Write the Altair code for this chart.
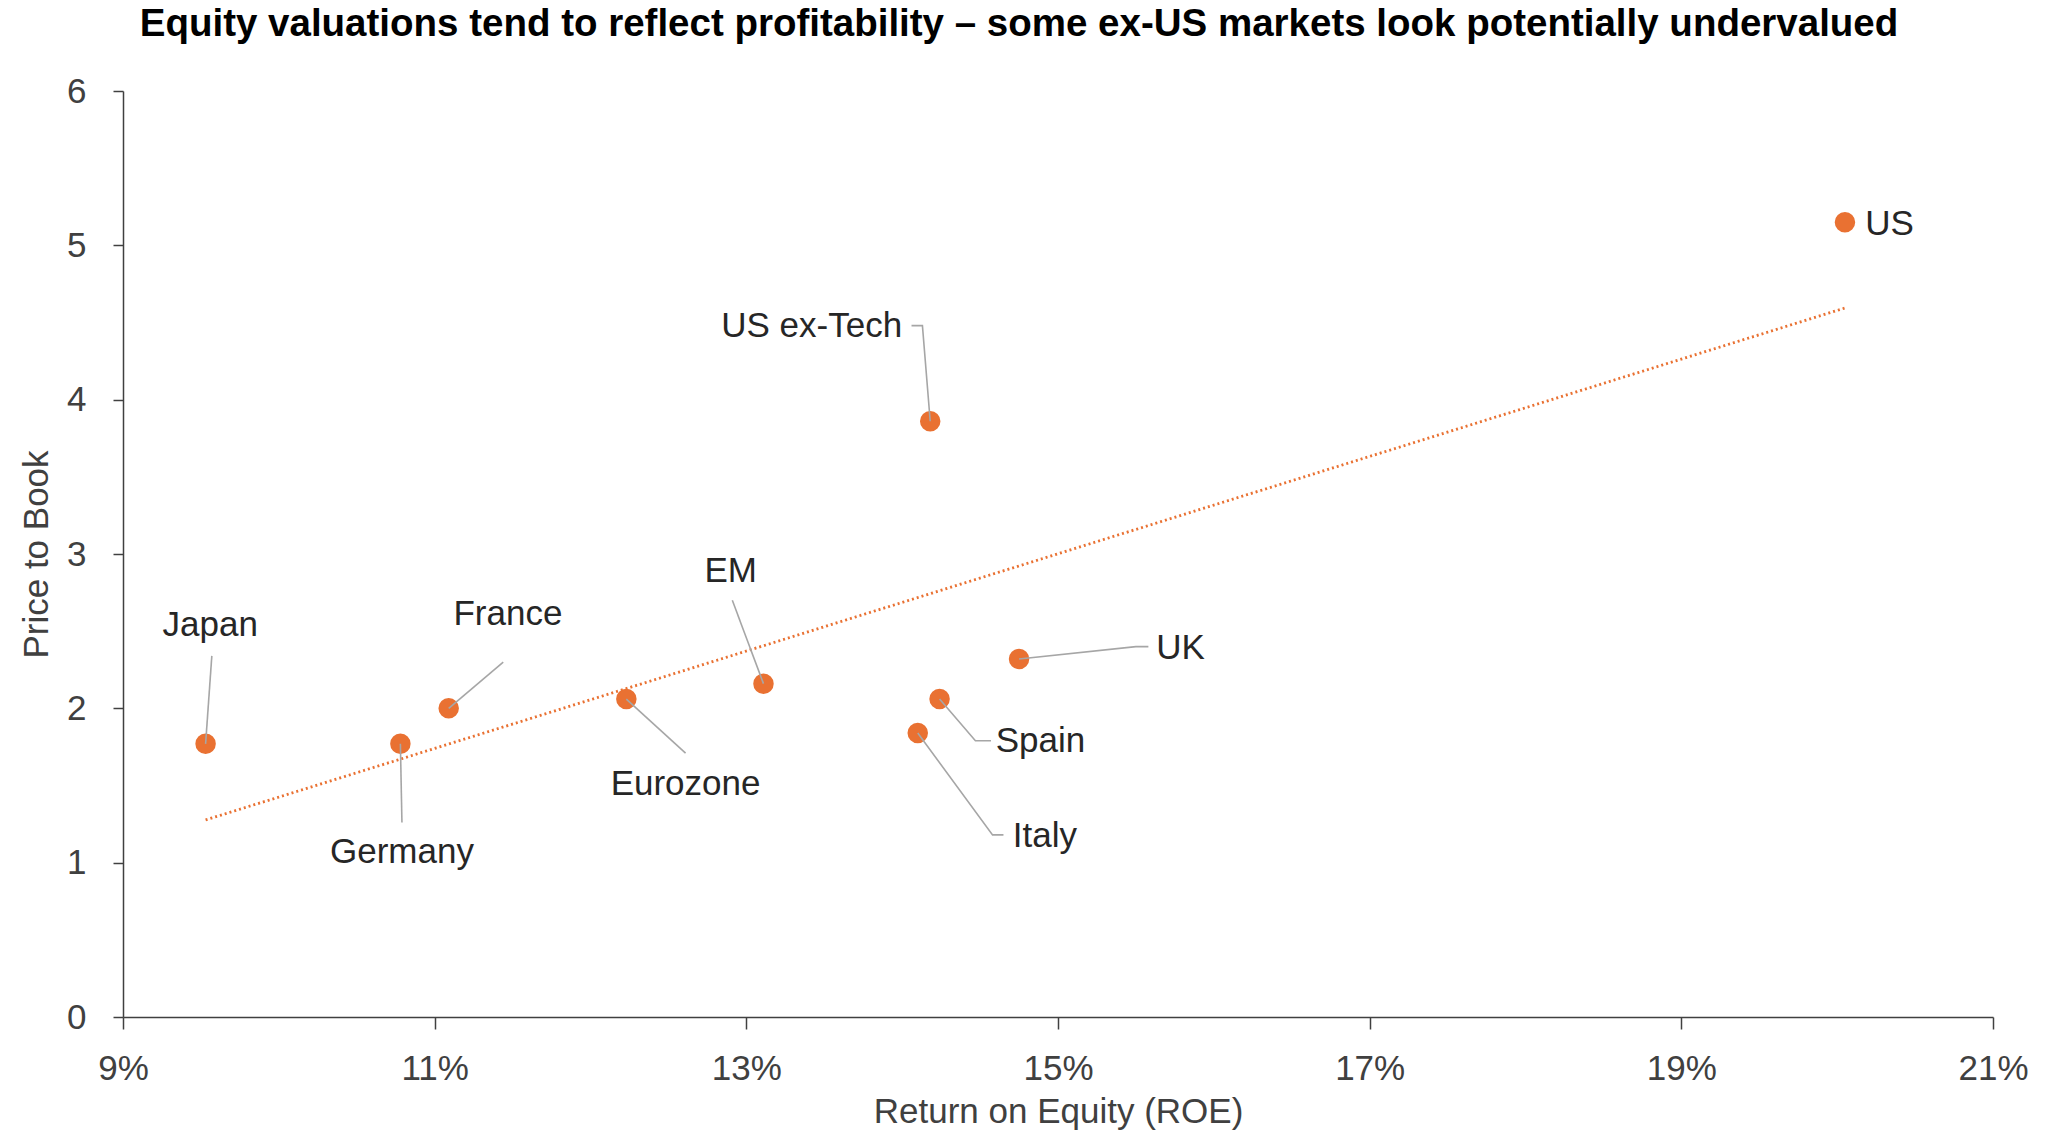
import altair as alt
import pandas as pd

# ---- data ----
names = ["Japan", "Germany", "France", "Eurozone", "EM", "US ex-Tech", "Italy", "Spain", "UK", "US"]
roe = [9.53, 10.78, 11.09, 12.23, 13.11, 14.18, 14.10, 14.24, 14.75, 20.05]   # Return on Equity, %
pb = [1.77, 1.77, 2.00, 2.06, 2.16, 3.86, 1.84, 2.06, 2.32, 5.15]             # Price to Book

# label anchors (data units) and alignment
label_x = [9.56, 10.79, 11.47, 12.61, 12.90, 14.00, 14.71, 14.60, 15.63, 20.18]
label_y = [2.54, 1.07, 2.61, 1.51, 2.89, 4.48, 1.17, 1.79, 2.39, 5.14]
label_align = ["center", "center", "center", "center", "center", "right", "left", "left", "left", "left"]

# leader lines: optional elbow, then end near label (data units)
elbow_x = [None, None, None, None, None, 14.13, 14.58, 14.47, 15.50, None]
elbow_y = [None, None, None, None, None, 4.48, 1.18, 1.79, 2.40, None]
end_x = [9.57, 10.79, 11.44, 12.61, 12.91, 14.06, 14.65, 14.57, 15.58, None]
end_y = [2.34, 1.26, 2.30, 1.71, 2.70, 4.48, 1.18, 1.79, 2.40, None]

x_ticks = [9, 11, 13, 15, 17, 19, 21]
y_ticks = [0, 1, 2, 3, 4, 5, 6]

TITLE = "Equity valuations tend to reflect profitability \u2013 some ex-US markets look potentially undervalued"
FONT = "Liberation Sans"
ORANGE = "#E97132"

points = pd.DataFrame({"name": names, "roe": roe, "pb": pb})
labels = pd.DataFrame({"name": names, "lx": label_x, "ly": label_y, "align": label_align})

rows = []
for i, n in enumerate(names):
    if end_x[i] is None:
        continue
    rows.append({"name": n, "o": 0, "x": roe[i], "y": pb[i]})
    if elbow_x[i] is not None:
        rows.append({"name": n, "o": 1, "x": elbow_x[i], "y": elbow_y[i]})
    rows.append({"name": n, "o": 2, "x": end_x[i], "y": end_y[i]})
leaders = pd.DataFrame(rows)

xscale = alt.Scale(domain=[9, 21], nice=False, zero=False)
yscale = alt.Scale(domain=[0, 6], nice=False, zero=False)

x_axis = alt.Axis(values=x_ticks, labelExpr="datum.value + '%'", title="Return on Equity (ROE)",
                  grid=False, tickSize=12, labelPadding=22, titlePadding=8, labelFlush=False)
y_axis = alt.Axis(values=y_ticks, format="d", title="Price to Book", grid=False, tickSize=10,
                  labelPadding=27, titlePadding=12)

base_pts = alt.Chart(points)

trend = base_pts.transform_regression("roe", "pb").mark_line(
    color=ORANGE, strokeWidth=2.8, strokeDash=[2, 3]
).encode(
    x=alt.X("roe:Q", scale=xscale, axis=x_axis),
    y=alt.Y("pb:Q", scale=yscale, axis=y_axis),
)

dots = base_pts.mark_circle(size=420, color=ORANGE, opacity=1).encode(
    x=alt.X("roe:Q", scale=xscale),
    y=alt.Y("pb:Q", scale=yscale),
)

lead = alt.Chart(leaders).mark_line(color="#A6A6A6", strokeWidth=1.6).encode(
    x=alt.X("x:Q", scale=xscale),
    y=alt.Y("y:Q", scale=yscale),
    detail="name:N",
    order="o:Q",
)

text_layers = []
for a in ["center", "right", "left"]:
    text_layers.append(
        alt.Chart(labels).transform_filter(alt.datum.align == a).mark_text(
            align=a, baseline="middle", font=FONT, fontSize=35, color="#262626"
        ).encode(
            x=alt.X("lx:Q", scale=xscale),
            y=alt.Y("ly:Q", scale=yscale),
            text="name:N",
        )
    )

chart = alt.layer(trend, dots, lead, *text_layers).properties(
    width=1870,
    height=926,
    title=alt.TitleParams(TITLE, font=FONT, fontSize=38.5, fontWeight="bold", color="#000000",
                          anchor="middle", offset=30, dx=-39),
    autosize=alt.AutoSizeParams(type="none"),
    padding={"left": 123, "top": 91, "right": 55, "bottom": 118},
).configure_view(stroke=None).configure_axis(
    domainColor="#404040", tickColor="#404040", domainWidth=1.5, tickWidth=1.5,
    labelFont=FONT, labelFontSize=35, labelColor="#404040",
    titleFont=FONT, titleFontSize=35, titleColor="#404040", titleFontWeight="normal",
)

chart.save("out.html", embed_options={"renderer": "svg", "actions": False})
